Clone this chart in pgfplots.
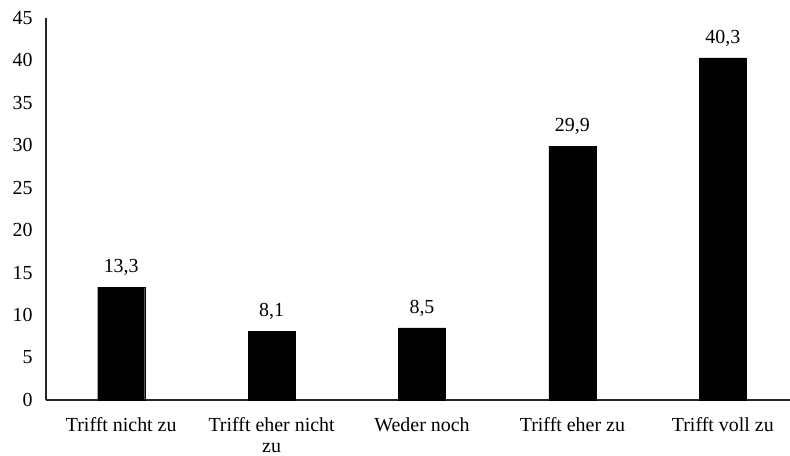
\documentclass[border=0pt]{standalone}
\usepackage{fontspec}
\setmainfont{Liberation Serif}
\usepackage{pgfplots}
\pgfplotsset{compat=1.18}
\begin{document}
\begin{tikzpicture}
\path[use as bounding box] (-46bp,-56bp) rectangle (744bp,400bp);
\begin{axis}[
  at={(0,0)}, anchor=south west,
  scale only axis,
  width=752bp, height=382bp,
  xmin=-0.5, xmax=4.5,
  ymin=0, ymax=45,
  ytick={0,5,...,45},
  xtick=data,
  xticklabels={Trifft nicht zu, Trifft eher nicht\\zu, Weder noch, Trifft eher zu, Trifft voll zu},
  axis x line=bottom, axis y line=left,
  axis line style={-, line width=1.2bp, black!85},
  major tick length=0pt,
  tick label style={font=\fontsize{20}{21}\selectfont},
  /pgf/number format/assume math mode=true,
  yticklabel style={xshift=-10bp},
  xticklabel style={align=center, yshift=-14bp},
  ybar, bar width=47bp,
  nodes near coords,
  nodes near coords style={font=\fontsize{20}{22}\selectfont, yshift=8bp,
    /pgf/number format/use comma, /pgf/number format/fixed,
    /pgf/number format/fixed zerofill, /pgf/number format/precision=1},
  clip=false,
]
\addplot[fill=black, draw=black] coordinates {(0,13.3) (1,8.1) (2,8.5) (3,29.9) (4,40.3)};
\end{axis}
\end{tikzpicture}
\end{document}
